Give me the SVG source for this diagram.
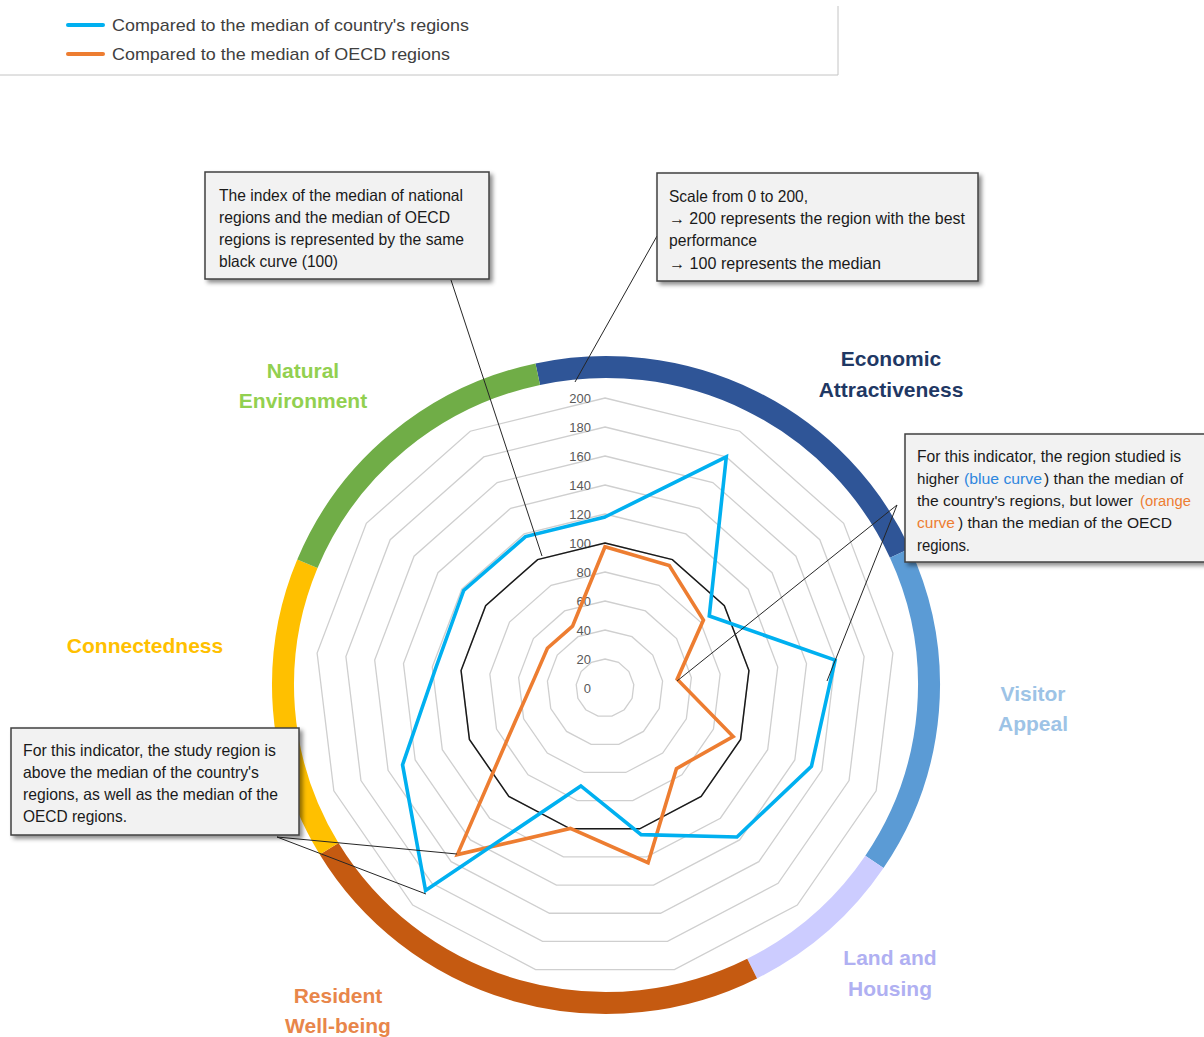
<svg xmlns="http://www.w3.org/2000/svg" width="1204" height="1037" viewBox="0 0 1204 1037">
<style>
text{font-family:"Liberation Sans",Arial,sans-serif}
.leg{font-size:17px;fill:#404040}
.grid{fill:none;stroke:#cfcfcf;stroke-width:1.3}
.ax{font-size:13px;fill:#595959;text-anchor:end}
.seg{fill:none;stroke-width:22}
.cat{font-size:21px;font-weight:bold;text-anchor:middle}
.med{fill:none;stroke:#1a1a1a;stroke-width:1.5}
.blue{fill:none;stroke:#00b0f0;stroke-width:3.6;stroke-linejoin:miter}
.orange{fill:none;stroke:#ed7d31;stroke-width:3.6;stroke-linejoin:miter}
.call{stroke:#262626;stroke-width:1;fill:none}
.box{fill:#f2f2f2;stroke:#404040;stroke-width:1.5}
.note{font-size:16.5px;fill:#1a1a1a}
.part{font-size:15.3px}
.tb{fill:#2e86de}
.to{fill:#ed7d31}
</style>
<defs>
<filter id="sh" x="-10%" y="-10%" width="130%" height="140%">
<feDropShadow dx="3" dy="3" stdDeviation="2" flood-color="#000" flood-opacity="0.45"/>
</filter>
</defs>
<rect width="1204" height="1037" fill="#ffffff"/>

<g id="legend">
<path d="M0,75 H838 V6" fill="none" stroke="#c4c4c4" stroke-width="1"/>
<line x1="68" y1="25" x2="103" y2="25" stroke="#00b0f0" stroke-width="4" stroke-linecap="round"/>
<line x1="68" y1="54" x2="103" y2="54" stroke="#ed7d31" stroke-width="4" stroke-linecap="round"/>
<text class="leg" x="112" y="31" textLength="357" lengthAdjust="spacingAndGlyphs">Compared to the median of country's regions</text>
<text class="leg" x="112" y="60" textLength="338" lengthAdjust="spacingAndGlyphs">Compared to the median of OECD regions</text>
</g>

<g id="ring">
<path class="seg" stroke="#2f5597" d="M537.75,374.19 A323,318 0 0 1 899.93,553.13"/>
<path class="seg" stroke="#5b9bd5" d="M899.93,553.13 A323,318 0 0 1 874.41,861.90"/>
<path class="seg" stroke="#ccccff" d="M874.41,861.90 A323,318 0 0 1 752.13,968.59"/>
<path class="seg" stroke="#c55a11" d="M752.13,968.59 A323,318 0 0 1 329.12,848.77"/>
<path class="seg" stroke="#ffc000" d="M329.12,848.77 A323,318 0 0 1 307.39,563.81"/>
<path class="seg" stroke="#70ad47" d="M307.39,563.81 A323,318 0 0 1 537.75,374.19"/>
</g>

<g id="grid">
<polygon class="grid" points="605,659 618.48,662.32 628.87,671.53 633.79,684.50 632.12,698.28 624.23,709.71 611.94,716.16 598.06,716.16 585.77,709.71 577.88,698.28 576.21,684.50 581.13,671.53 591.52,662.32"/>
<polygon class="grid" points="605,630 631.95,636.64 652.73,655.05 662.58,681.01 659.23,708.57 643.46,731.41 618.88,744.31 591.12,744.31 566.54,731.41 550.77,708.57 547.42,681.01 557.27,655.05 578.05,636.64"/>
<polygon class="grid" points="605,601 645.43,610.96 676.60,638.58 691.37,677.51 686.35,718.85 662.69,753.12 625.82,772.47 584.18,772.47 547.31,753.12 523.65,718.85 518.63,677.51 533.40,638.58 564.57,610.96"/>
<polygon class="grid" points="605,572 658.91,585.29 700.47,622.11 720.15,674.02 713.46,729.13 681.92,774.83 632.76,800.63 577.24,800.63 528.08,774.83 496.54,729.13 489.85,674.02 509.53,622.11 551.09,585.29"/>
<polygon class="grid" points="605,543 672.38,559.61 724.33,605.63 748.94,670.52 740.58,739.42 701.15,796.53 639.70,828.79 570.30,828.79 508.85,796.53 469.42,739.42 461.06,670.52 485.67,605.63 537.62,559.61"/>
<polygon class="grid" points="605,514 685.86,533.93 748.20,589.16 777.73,667.03 767.69,749.70 720.38,818.24 646.64,856.94 563.36,856.94 489.62,818.24 442.31,749.70 432.27,667.03 461.80,589.16 524.14,533.93"/>
<polygon class="grid" points="605,485 699.34,508.25 772.06,572.68 806.52,663.53 794.81,759.98 739.61,839.95 653.58,885.10 556.42,885.10 470.39,839.95 415.19,759.98 403.48,663.53 437.94,572.68 510.66,508.25"/>
<polygon class="grid" points="605,456 712.82,482.57 795.93,556.21 835.31,660.03 821.92,770.27 758.84,861.65 660.52,913.26 549.48,913.26 451.16,861.65 388.08,770.27 374.69,660.03 414.07,556.21 497.18,482.57"/>
<polygon class="grid" points="605,427 726.29,456.89 819.80,539.74 864.10,656.54 849.04,780.55 778.07,883.36 667.46,941.42 542.54,941.42 431.93,883.36 360.96,780.55 345.90,656.54 390.20,539.74 483.71,456.89"/>
<polygon class="grid" points="605,398 739.77,431.22 843.66,523.26 892.89,653.04 876.16,790.83 797.30,905.07 674.40,969.57 535.60,969.57 412.70,905.07 333.84,790.83 317.11,653.04 366.34,523.26 470.23,431.22"/>
</g>

<g id="axis-labels">
<text class="ax" x="591" y="692.5">0</text>
<text class="ax" x="591" y="663.5">20</text>
<text class="ax" x="591" y="634.5">40</text>
<text class="ax" x="591" y="605.5">60</text>
<text class="ax" x="591" y="576.5">80</text>
<text class="ax" x="591" y="547.5">100</text>
<text class="ax" x="591" y="518.5">120</text>
<text class="ax" x="591" y="489.5">140</text>
<text class="ax" x="591" y="460.5">160</text>
<text class="ax" x="591" y="431.5">180</text>
<text class="ax" x="591" y="402.5">200</text>
</g>

<g id="series">
<polygon id="median" class="med" points="605,543 672.38,559.61 724.33,605.63 748.94,670.52 740.58,739.42 701.15,796.53 639.70,828.79 570.30,828.79 508.85,796.53 469.42,739.42 461.06,670.52 485.67,605.63 537.62,559.61"/>
<polygon id="oecd" class="orange" points="605,546.7 669.27,565.54 703.43,620.06 677.17,679.24 733.10,736.58 676.42,768.61 648.08,862.77 570.39,828.40 457.39,854.62 514.86,722.18 533.92,679.37 547.39,648.24 572.56,626.19"/>
<polygon id="country" class="blue" points="605,517 726.29,456.89 709.27,616.03 835.11,660.06 811.45,766.30 736.96,836.95 641.14,834.61 580.85,785.97 425.56,890.55 402.57,764.77 435.94,667.47 463.69,590.46 525.53,536.59"/>
</g>

<g id="category-labels">
<g id="cat-economic"><text class="cat" fill="#1f3864" x="891" y="366">Economic</text><text class="cat" fill="#1f3864" x="891" y="397">Attractiveness</text></g>
<g id="cat-visitor"><text class="cat" fill="#9dc3e6" x="1033" y="701">Visitor</text><text class="cat" fill="#9dc3e6" x="1033" y="731">Appeal</text></g>
<g id="cat-land"><text class="cat" fill="#b0b0f2" x="890" y="965">Land and</text><text class="cat" fill="#b0b0f2" x="890" y="996">Housing</text></g>
<g id="cat-resident"><text class="cat" fill="#e8864a" x="338" y="1003">Resident</text><text class="cat" fill="#e8864a" x="338" y="1033">Well-being</text></g>
<g id="cat-connect"><text class="cat" fill="#ffc000" x="145" y="653">Connectedness</text></g>
<g id="cat-natural"><text class="cat" fill="#92d050" x="303" y="378">Natural</text><text class="cat" fill="#92d050" x="303" y="408">Environment</text></g>
</g>

<g id="connectors">
<line class="call" x1="451" y1="280" x2="542" y2="556"/>
<line class="call" x1="657" y1="236" x2="575" y2="382"/>
<line class="call" x1="897" y1="505" x2="677" y2="681"/>
<line class="call" x1="897" y1="505" x2="827" y2="681"/>
<line class="call" x1="277" y1="837" x2="457" y2="854"/>
<line class="call" x1="277" y1="837" x2="426" y2="894"/>
</g>

<g id="note-median">
<rect class="box" filter="url(#sh)" x="205" y="172" width="284" height="107"/>
<text class="note" x="219" y="201" textLength="244" lengthAdjust="spacingAndGlyphs">The index of the median of national</text>
<text class="note" x="219" y="223" textLength="231" lengthAdjust="spacingAndGlyphs">regions and the median of OECD</text>
<text class="note" x="219" y="245" textLength="245" lengthAdjust="spacingAndGlyphs">regions is represented by the same</text>
<text class="note" x="219" y="267" textLength="119" lengthAdjust="spacingAndGlyphs">black curve (100)</text>
</g>

<g id="note-scale">
<rect class="box" filter="url(#sh)" x="657" y="173" width="321" height="108"/>
<text class="note" x="669" y="202" textLength="139" lengthAdjust="spacingAndGlyphs">Scale from 0 to 200,</text>
<text class="note" x="669" y="224" textLength="296" lengthAdjust="spacingAndGlyphs">→ 200 represents the region with the best</text>
<text class="note" x="669" y="246" textLength="88" lengthAdjust="spacingAndGlyphs">performance</text>
<text class="note" x="669" y="269" textLength="212" lengthAdjust="spacingAndGlyphs">→ 100 represents the median</text>
</g>

<g id="note-higher">
<rect class="box" filter="url(#sh)" x="905" y="434" width="310" height="128"/>
<text class="note" x="917" y="462" textLength="264" lengthAdjust="spacingAndGlyphs">For this indicator, the region studied is</text>
<text class="note part" x="917" y="484" textLength="42" lengthAdjust="spacingAndGlyphs">higher</text>
<text class="note part tb" x="964" y="484" textLength="78" lengthAdjust="spacingAndGlyphs">(blue curve</text>
<text class="note part" x="1044" y="484" textLength="139" lengthAdjust="spacingAndGlyphs">) than the median of</text>
<text class="note part" x="917" y="506" textLength="216" lengthAdjust="spacingAndGlyphs">the country's regions, but lower</text>
<text class="note part to" x="1140" y="506" textLength="51" lengthAdjust="spacingAndGlyphs">(orange</text>
<text class="note part to" x="917" y="528" textLength="38" lengthAdjust="spacingAndGlyphs">curve</text>
<text class="note part" x="958" y="528" textLength="214" lengthAdjust="spacingAndGlyphs">) than the median of the OECD</text>
<text class="note" x="917" y="551" textLength="53" lengthAdjust="spacingAndGlyphs">regions.</text>
</g>

<g id="note-above">
<rect class="box" filter="url(#sh)" x="11" y="728" width="288" height="107"/>
<text class="note" x="23" y="756" textLength="253" lengthAdjust="spacingAndGlyphs">For this indicator, the study region is</text>
<text class="note" x="23" y="778" textLength="236" lengthAdjust="spacingAndGlyphs">above the median of the country's</text>
<text class="note" x="23" y="800" textLength="255" lengthAdjust="spacingAndGlyphs">regions, as well as the median of the</text>
<text class="note" x="23" y="822" textLength="104" lengthAdjust="spacingAndGlyphs">OECD regions.</text>
</g>
</svg>
